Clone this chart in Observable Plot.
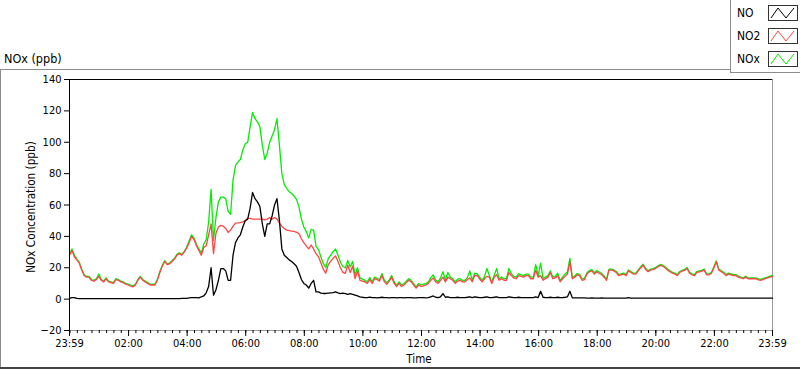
<!DOCTYPE html>
<html>
<head>
<meta charset="utf-8">
<script src="https://cdn.jsdelivr.net/npm/d3@7"></script>
<script src="https://cdn.jsdelivr.net/npm/@observablehq/plot@0.6"></script>
<style>
  html, body { margin: 0; padding: 0; background: #fff; }
  #wrap { position: relative; width: 800px; height: 369px; overflow: hidden; background: #fff;
          font-family: "DejaVu Sans Condensed", "Liberation Sans", sans-serif; font-size: 11px; color: #000; }
  #wrap > svg { position: absolute; left: 0; top: 0; }
  .abs { position: absolute; }
  .legend { position: absolute; left: 730px; top: -1px; width: 69px; height: 72px; border: 1px solid #8c8c8c; background: #fff; }
  .legend .row { position: absolute; left: 6px; height: 16px; width: 62px; }
  .legend .lab { position: absolute; left: 0; top: 0px; font-size: 12px; line-height: 16px; }
  .legend .sw { position: absolute; left: 31px; top: 0; }
</style>
</head>
<body>
<div id="wrap"></div>
<script>
// ---- data (5-minute samples starting 23:59) ----
const seriesNames = ["NO", "NO2", "NOx"];
const seriesColors = ["#000000", "#ff4545", "#00ee00"];

const NO = [
  0.5,1,1,0.5,0.3,0.3,0.3,0.3,0.3,0.3,
  0.3,0.3,0.3,0.3,0.3,0.3,0.3,0.3,0.3,0.3,
  0.3,0.3,0.3,0.3,0.3,0.3,0.3,0.3,0.3,0.3,
  0.3,0.3,0.3,0.3,0.3,0.3,0.3,0.3,0.3,0.3,
  0.3,0.3,0.3,0.3,0.3,0.3,0.5,0.5,0.5,0.8,
  1,1,1,0.8,1.5,2,4,8,20,2.5,
  6,12,19.5,19.5,18,12,12,28,36,39,
  41,46,50,51,58,68,64,62,59,48,
  40,48,48,53,60,64,50,32,28,26.5,
  25,24,22.5,21,17,12.5,10,9,7,10,
  12,4.6,4.6,3.8,3.6,3.6,3.8,4,4.2,4.6,
  4,3.5,3.8,3.5,3,3.5,3,2.5,2,1.5,
  1.2,1,1,1.3,1,1,0.8,1,1.2,1,
  1,0.8,1,1,0.8,1,1,0.8,1,1,
  1,0.8,0.8,1,1,1,0.8,1,1.5,2,
  1.2,1,1.5,3.5,1.2,1.5,1,1,1,1.2,
  1,1,1,1.2,1.5,1,1.5,1.2,1,1,
  1.2,1.5,1,1,1.2,1.5,1,1,1,1,
  1.5,1.2,1,1,1.2,1,1,1,1,1,
  1,1.5,1,5,1.2,1,1,1.2,1,1,
  1.2,1,1,1.2,1.5,5,0.8,0.8,0.8,0.8,
  0.8,0.8,0.7,0.7,0.8,0.7,0.7,0.7,0.8,0.7,
  0.6,0.6,0.7,0.6,0.6,0.6,0.7,0.6,0.6,1,
  0.6,0.6,0.6,0.7,0.6,0.6,0.6,0.6,0.6,0.6,
  0.6,0.7,0.6,0.6,0.6,0.6,0.6,0.6,0.6,0.6,
  0.6,0.6,0.6,0.6,0.6,0.6,0.6,0.7,0.6,0.6,
  0.6,0.6,0.6,0.6,0.6,0.6,0.6,0.6,0.6,0.6,
  0.6,0.6,0.6,0.6,0.6,0.6,0.6,0.6,0.6,0.6,
  0.6,0.6,0.6,0.6,0.6,0.6,0.6,0.6,0.6
];

const NO2 = [
  28,31,27,25,23,18.5,15,14,14,12,
  11.5,12.5,14.5,12,11,13,11,10.5,10,12.5,
  12,11,10.5,9.5,9,8.3,7.8,9,12,14,
  12,11,10,9,9,9,12,17,21,24,
  22,22.5,24,25.5,28,29,28,30,32.5,36,
  40,38,34,31,28,33,34,41,48,29,
  42,46,47,46.5,45,42.5,44,46.5,48.5,48.6,
  48.8,49.2,50,51.5,51.5,51,51,51,51,51,
  50.5,51,52,51,52,51,48.5,46.5,45,44,
  43.6,43.4,43.2,42.6,41.8,38.5,36,34,32,34.5,
  32,29,27,23,19,16.5,22,24,26,27.5,
  24,20,17,16.4,21.6,17,21,13,18,12,
  11.5,11,10,12.5,10,13,12.5,11.5,15,11,
  9.5,11.5,14,10,8,10,8,9,10.5,12,
  11,9,7,9,8,8.5,9,10,12,13.5,
  11,10,12,14,11,14,13,12,10,11.5,
  12,11,11,12.5,13.5,11,15,15,13,11,
  13,14.5,14,10,14,15.5,12,13,12,12,
  17,15,13.5,13,15,14.5,14,15,15,13,
  13,18.5,14,15,12,13,14,17,13,13.5,
  15,11,13,14.5,16,23.8,13,14,15.5,15,
  12,12.5,16,17.5,18,16,17.4,16.5,15.5,14,
  12,18.5,18.5,18,17,15,15.5,16,15,18,
  17,16,16,18,20,21.6,19,17.5,18.5,18.8,
  19.5,20.5,21.5,21,20,18.5,17.5,16.5,16,15,
  17,17.8,18.3,19.5,16.5,15.5,15,17,17.4,17.8,
  18.5,15.5,15.5,16.5,20,23.8,18.5,17.5,16.5,15,
  16,15.5,15,15,14,13.5,13,14,13,13,
  13,13,12.5,12,12.5,13,13.5,14,14.5
];

const NOx = [
  28.5,32,28,25.5,23.5,19,15.5,14.5,14.5,12.5,
  12,13,16,12.5,11.5,13.5,11.5,11,10.5,13,
  12.5,11.5,11,10,9.5,9,8.5,9.5,12.5,14.5,
  12.5,11.5,10.5,9.5,9.5,9.5,12.5,17.5,21.5,24.5,
  22.5,23,24.5,26,28.5,29.5,28.5,30.5,33,37,
  41,39,35,32,29.5,35,38,49,70,37.5,
  52,62,65,65,64,56,54,76,85,87.5,
  89,95,99,100,110,119,115,113,110,98,
  89,93,100,104,108,115,98,80,73,70.5,
  68.5,67.4,65.7,63.6,58.8,51,46,43,39,44.5,
  44,33.6,31.6,26.8,22.6,20.1,25.8,28,30.2,32,
  28,23.5,20.8,19.9,24.6,20.5,24,15.5,20,13.5,
  12.7,12,11,13.8,11,14,13.3,12.5,16.2,12,
  10.5,12.3,15,11,8.8,11,9,9.8,11.5,13,
  12,9.8,7.8,10,9,9.5,9.8,11,13.5,15.5,
  12.2,11,13.5,17.5,12.2,17,14,13,11,12.7,
  13,12,12,13.7,18,12,16.5,16.2,14,12,
  14.2,19.5,15,11,15.2,19.5,13,14,13,13,
  19.5,16.2,14.5,14,16.2,15.5,15,16,16,14,
  14,22,15,23,13.2,14,15,18,14,14.5,
  16.5,12,14,16,17.5,26,13.8,14.8,16.3,15.8,
  12.8,13.3,16.8,18.3,18.8,16.8,18.2,17.3,16.3,14.8,
  12.6,19.1,19.1,18.6,17.6,15.6,16.1,16.6,15.6,18.6,
  17.6,16.6,16.6,18.6,20.6,22.2,19.6,18.1,19.1,19.4,
  20.1,21.1,22.1,21.6,20.6,19.1,18.1,17.1,16.6,15.6,
  17.6,18.4,18.9,20.1,17.1,16.1,15.6,17.6,18,18.4,
  19.1,16.1,16.1,17.1,20.6,24.4,19.1,18.1,17.1,15.6,
  16.6,16.1,15.6,15.6,14.6,14.1,13.6,14.6,13.6,13.6,
  13.6,13.6,13.1,12.6,13.1,13.6,14.1,14.6,15.1
];

const yTicks = [-20, 0, 20, 40, 60, 80, 100, 120, 140];
const xTickLabels = ["23:59","02:00","04:00","06:00","08:00","10:00","12:00","14:00","16:00","18:00","20:00","22:00","23:59"];

// ---- build table ----
const start = new Date(2020, 0, 1, 23, 59);
const end = new Date(2020, 0, 2, 23, 59);
const stepMin = 5;
const timeAt = i => new Date(start.getTime() + i * stepMin * 60000);
const rows = [];
[NO, NO2, NOx].forEach((arr, s) => arr.forEach((v, i) => rows.push({t: timeAt(i), v, s: seriesNames[s]})));

const parseHM = (lab, idx) => {
  const [h, m] = lab.split(":").map(Number);
  const day = idx === 0 ? 1 : 2;
  return new Date(2020, 0, day, h, m);
};
const majorTicks = xTickLabels.map(parseHM);
const minorTicks = d3.timeMinute.every(15).range(new Date(2020, 0, 2, 0, 0), end);
const fmt = d3.timeFormat("%H:%M");

const font = '"DejaVu Sans Condensed", "Liberation Sans", sans-serif';

const chart = Plot.plot({
  width: 800,
  height: 369,
  marginTop: 79,
  marginLeft: 69,
  marginRight: 28,
  marginBottom: 39,
  style: {fontFamily: font, fontSize: "11px", color: "#000", background: "transparent", overflow: "visible"},
  x: {type: "time", domain: [start, end]},
  y: {domain: [-20, 140]},
  marks: [
    Plot.frame({stroke: "#9a9a9a"}),
    Plot.axisY({ticks: yTicks, tickSize: 5, tickPadding: 3, label: null}),
    Plot.axisX({ticks: minorTicks, tickSize: 3, tickFormat: () => "", label: null}),
    Plot.axisX({ticks: majorTicks, tickSize: 6, tickPadding: 3, tickFormat: fmt, label: null}),
    Plot.lineY(rows.filter(d => d.s === "NOx"), {x: "t", y: "v", stroke: seriesColors[2], strokeWidth: 1.3}),
    Plot.lineY(rows.filter(d => d.s === "NO2"), {x: "t", y: "v", stroke: seriesColors[1], strokeWidth: 1.3}),
    Plot.lineY(rows.filter(d => d.s === "NO"), {x: "t", y: "v", stroke: seriesColors[0], strokeWidth: 1.3}),
    Plot.ruleY([140], {stroke: "#000"}),
    Plot.ruleX([start], {stroke: "#000"})
  ]
});

const wrap = document.getElementById("wrap");
wrap.appendChild(chart);

// outer frame lines
const addLine = (css) => { const d = document.createElement("div"); d.className = "abs"; d.style.cssText = css; wrap.appendChild(d); };
addLine("left:0;top:69px;width:730px;height:1px;background:#8c8c8c;");
addLine("left:0;top:69px;width:1px;height:300px;background:#8c8c8c;");
addLine("left:0;top:367px;width:800px;height:2px;background:#444;");

// title
const title = document.createElement("div");
title.className = "abs";
title.style.cssText = "left:4px;top:51px;font-size:12.5px;";
title.textContent = "NOx (ppb)";
wrap.appendChild(title);

// y label
const ylab = document.createElement("div");
ylab.className = "abs";
ylab.style.cssText = "left:31px;top:207px;transform:translate(-50%,-50%) rotate(-90deg);white-space:nowrap;font-size:11.7px;";
ylab.textContent = "NOx Concentration (ppb)";
wrap.appendChild(ylab);

// x label
const xlab = document.createElement("div");
xlab.className = "abs";
xlab.style.cssText = "left:419px;top:352px;transform:translateX(-50%);font-size:11.5px;";
xlab.textContent = "Time";
wrap.appendChild(xlab);

// legend
const leg = document.createElement("div");
leg.className = "legend";
seriesNames.forEach((name, k) => {
  const row = document.createElement("div");
  row.className = "row";
  row.style.top = (5 + k * 23) + "px";
  const lab = document.createElement("div");
  lab.className = "lab";
  lab.textContent = name;
  row.appendChild(lab);
  const ns = "http://www.w3.org/2000/svg";
  const sv = document.createElementNS(ns, "svg");
  sv.setAttribute("class", "sw");
  sv.setAttribute("width", "30"); sv.setAttribute("height", "16");
  const r = document.createElementNS(ns, "rect");
  r.setAttribute("x", "0.5"); r.setAttribute("y", "0.5"); r.setAttribute("width", "29"); r.setAttribute("height", "15");
  r.setAttribute("fill", "#fff"); r.setAttribute("stroke", "#333");
  sv.appendChild(r);
  const p = document.createElementNS(ns, "path");
  p.setAttribute("d", "M3,13 L10,3 L18,13 L26,3");
  p.setAttribute("fill", "none"); p.setAttribute("stroke", seriesColors[k]); p.setAttribute("stroke-width", "1");
  sv.appendChild(p);
  row.appendChild(sv);
  leg.appendChild(row);
});
wrap.appendChild(leg);
</script>
</body>
</html>
